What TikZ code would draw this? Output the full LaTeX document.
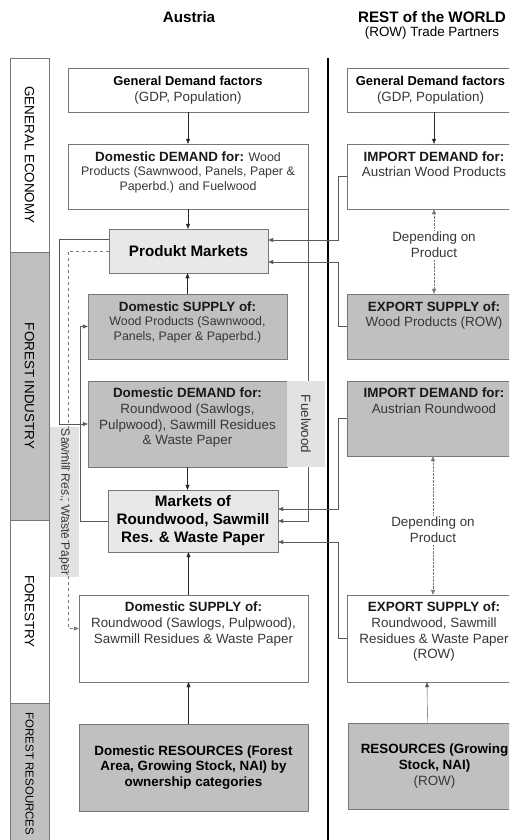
\documentclass[tikz,border=0pt]{standalone}
\usepackage{fontspec}
\setmainfont{Liberation Sans}
\usetikzlibrary{positioning,arrows.meta,calc}
\definecolor{BoxGrey}{RGB}{192,192,192}
\definecolor{MarketGrey}{RGB}{232,232,232}
\definecolor{TagGrey}{RGB}{226,226,226}
\definecolor{EdgeGrey}{RGB}{120,120,120}
\definecolor{LinkGrey}{RGB}{90,90,90}
\definecolor{BodyText}{RGB}{55,55,55}
\newcommand{\txtnorm}{\fontsize{13.4}{15.7}\selectfont}
\newcommand{\txtsmall}{\fontsize{12.4}{14.4}\selectfont}
\newcommand{\txtbig}{\fontsize{15.2}{18}\selectfont}
\newcommand{\head}[1]{{\txtnorm\bfseries\color{black!90}#1}}
\newcommand{\bodytxt}[1]{{\color{BodyText}#1}}

\begin{document}
\begin{tikzpicture}[x=1pt, y=-1pt, font=\txtnorm, every node/.style={align=center, inner sep=0pt}]
\tikzset{
  whitebox/.style={draw=EdgeGrey, fill=white},
  greybox/.style={draw=EdgeGrey, fill=BoxGrey},
  marketbox/.style={draw=EdgeGrey, fill=MarketGrey, font=\txtbig\bfseries},
  sidetag/.style={draw=EdgeGrey, rotate=-90, minimum height=39, text=black},
  tag/.style={fill=TagGrey, rotate=-90, text=BodyText},
  arr/.style={-{Triangle[length=5pt,width=4pt]}, black!85},
  link/.style={-{Triangle[length=5pt,width=4pt]}, LinkGrey},
  dotarr/.style={-{Triangle[length=5pt,width=4pt]}, densely dotted, EdgeGrey, shorten <=2pt}
}
\useasboundingbox (0,0) rectangle (509,840);
\clip (0,0) rectangle (509,840);

% sector bands on the left
\node[sidetag, fill=white, minimum width=194] (geneco) at (29.5,155) {GENERAL ECONOMY};
\node[sidetag, fill=BoxGrey, minimum width=268] (forind) at (29.5,386) {FOREST INDUSTRY};
\node[sidetag, fill=white, minimum width=183] (forestry) at (29.5,611.5) {FORESTRY};
\node[sidetag, fill=BoxGrey, minimum width=142, font=\fontsize{11.5}{13}\selectfont] (forres) at (29.5,774) {FOREST RESOURCES};

% border Austria / ROW
\coordinate (divtop) at (328,58);
\coordinate (divbot) at (328,845);
\draw[line width=2.6pt] (divtop) -- (divbot);

\node[font=\txtbig\bfseries] (austria) at (189,17) {Austria};
\node[font=\txtbig\bfseries] (restworld) at (432,17) {REST of the WORLD};
\node[below=4pt of restworld] (rowpartners) {(ROW) Trade Partners};

% Austria
\node[whitebox, minimum width=240, minimum height=44] (gdf) at (188,90) {{\fontsize{12.9}{15}\selectfont\bfseries General Demand factors}\\\bodytxt{(GDP, Population)}};
\node[whitebox, minimum width=240, minimum height=65] (dd) at (188,176.5) {};
\node[below=7.5pt of dd.north, font=\txtsmall] (dd-txt) {\head{Domestic DEMAND for:} \bodytxt{Wood}\\\bodytxt{Products (Sawnwood, Panels, Paper \&}\\\bodytxt{Paperbd.) and Fuelwood}};
\node[marketbox, minimum width=159, minimum height=44] (pm) at (188.5,251) {Produkt Markets};
\node[greybox, minimum width=199, minimum height=65] (dsw) at (187.5,326.5) {};
\node[below=7.5pt of dsw.north, font=\txtsmall] (dsw-txt) {\head{Domestic SUPPLY of:}\\\bodytxt{Wood Products (Sawnwood,}\\\bodytxt{Panels, Paper \& Paperbd.)}};
\node[greybox, minimum width=199, minimum height=86] (ddr) at (187.5,424) {};
\node[below=7pt of ddr.north] (ddr-txt) {\head{Domestic DEMAND for:}\\\bodytxt{Roundwood (Sawlogs,}\\\bodytxt{Pulpwood), Sawmill Residues}\\\bodytxt{\& Waste Paper}};
\node[marketbox, minimum width=170, minimum height=62] (mkt) at (193,521) {Markets of\\Roundwood, Sawmill\\Res. \& Waste Paper};
\node[whitebox, minimum width=229, minimum height=87] (dsr) at (193.5,638.5) {};
\node[below=7pt of dsr.north] (dsr-txt) {\head{Domestic SUPPLY of:}\\\bodytxt{Roundwood (Sawlogs, Pulpwood),}\\\bodytxt{Sawmill Residues \& Waste Paper}};
\node[greybox, minimum width=229, minimum height=87, font=\txtnorm\bfseries] (dres) at (193.5,767.5) {Domestic RESOURCES (Forest\\Area, Growing Stock, NAI) by\\ownership categories};

% ROW
\node[whitebox, minimum width=174, minimum height=44] (rgdf) at (434,90) {};
\node (rgdf-txt) at ([xshift=-3.5pt]rgdf.center) {{\fontsize{12.9}{15}\selectfont\bfseries General Demand factors}\\\bodytxt{(GDP, Population)}};
\node[whitebox, minimum width=174, minimum height=65] (impd) at (434,176.5) {};
\node[below=7.5pt of impd.north] (impd-txt) {\head{IMPORT DEMAND for:}\\\bodytxt{Austrian Wood Products}};
\node[greybox, minimum width=174, minimum height=65] (esw) at (434,326.5) {};
\node[below=7.5pt of esw.north] (esw-txt) {\head{EXPORT SUPPLY of:}\\\bodytxt{Wood Products (ROW)}};
\node[greybox, minimum width=174, minimum height=75] (impr) at (434,418.5) {};
\node[below=7pt of impr.north] (impr-txt) {\head{IMPORT DEMAND for:}\\\bodytxt{Austrian Roundwood}};
\node[whitebox, minimum width=174, minimum height=87] (esr) at (434,638.5) {};
\node[below=7pt of esr.north] (esr-txt) {\head{EXPORT SUPPLY of:}\\\bodytxt{Roundwood, Sawmill}\\\bodytxt{Residues \& Waste Paper}\\\bodytxt{(ROW)}};
\node[greybox, minimum width=173, minimum height=86, font=\txtnorm\bfseries] (rres) at (434.5,766) {RESOURCES (Growing\\Stock, NAI)\\\mdseries\bodytxt{(ROW)}};

\node[text=BodyText] (dep1) at (434,245) {Depending on\\Product};
\node[text=BodyText] (dep2) at (433,530) {Depending on\\Product};

% lanes for the loops
\coordinate (laneA) at (338,0);
\coordinate (laneB) at (59,0);
\coordinate (laneC) at (68,0);
\coordinate (laneD) at (80,0);

\node[tag, minimum width=150, minimum height=29, font=\fontsize{12.1}{14}\selectfont] (sawtag) at (64.5,502) {Sawmill Res., Waste Paper};

% vertical flows
\draw[arr] (gdf.south) -- (gdf.south |- dd.north);
\draw[arr] (dd.south) -- (dd.south |- pm.north);
\draw[arr] (dsw.north) -- (dsw.north |- pm.south);
\draw[arr] (ddr.south) -- (ddr.south |- mkt.north);
\draw[arr] (pm.south |- dsr.north) -- (pm.south |- mkt.south);
\draw[arr] (pm.south |- dres.north) -- (pm.south |- dsr.south);
\draw[arr] (rgdf.south) -- (rgdf.south |- impd.north);
\draw[link] ([xshift=-7pt]rres.north) -- ([xshift=-7pt]esr.south);

\draw[dotarr] (dep1.north) -- (dep1.north |- impd.south);
\draw[dotarr] (dep1.south) -- (dep1.south |- esw.north);
\draw[dotarr] (dep2.north) -- (dep2.north |- impr.south);
\draw[dotarr] (dep2.south) -- (dep2.south |- esr.north);

% trade links
\draw[link] (impd.west) -| ([yshift=11pt]laneA |- pm.east) -- ([yshift=11pt]pm.east);
\draw[link] (esw.west) -| ([yshift=-11pt]laneA |- pm.east) -- ([yshift=-11pt]pm.east);
\draw[link] (impr.west) -| ([yshift=12pt]laneA |- mkt.east) -- ([yshift=12pt]mkt.east);
\draw[link] (esr.west) -| ([yshift=-21pt]laneA |- mkt.east) -- ([yshift=-21pt]mkt.east);

% domestic loops
\draw[link] (dd.south east) |- (mkt.east);
\draw[link] ([yshift=12pt]pm.west) -| (laneB |- ddr.west) -- (ddr.west);
\draw[link, dashed, EdgeGrey] (pm.west) -| ([yshift=10pt]laneC |- dsr.west) -- ([yshift=10pt]dsr.west);
\draw[link] (mkt.west) -| (laneD |- dsw.west) -- (dsw.west);

\node[tag, minimum width=86, minimum height=38] (fueltag) at (306,424) {Fuelwood};
\end{tikzpicture}
\end{document}
